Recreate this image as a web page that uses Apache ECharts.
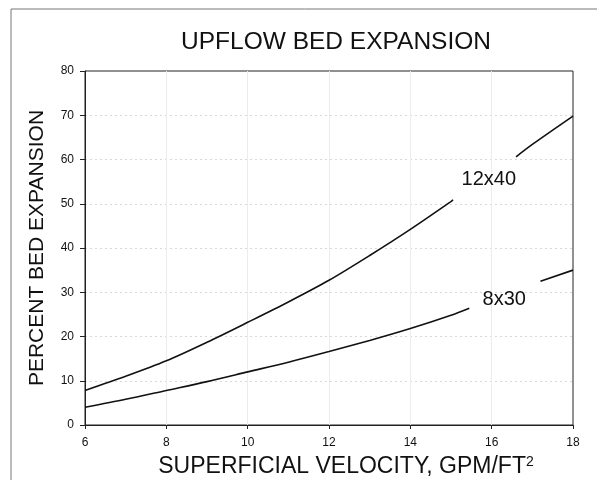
<!DOCTYPE html>
<html>
<head>
<meta charset="utf-8">
<script src="https://cdn.jsdelivr.net/npm/echarts@6/dist/echarts.min.js"></script>
<style>
  html, body { margin: 0; padding: 0; background: #fff; }
  #chart { width: 597px; height: 480px; }
</style>
</head>
<body>
<div id="chart"></div>
<script>
// values (x = GPM/ft², y = % expansion); null breaks the line where the label sits
const xTicks = [6, 8, 10, 12, 14, 16, 18]
const mesh12x40 = [[6, 7.8], [7, 11], [8, 14.5], [9, 18.7], [10, 23.2], [11, 27.8], [12, 32.7], [13, 38.3], [14, 44.2], [15, 50.5], [15.05, 50.9], null, [16.6, 60.6], [17, 63.4], [18, 69.8]]
const mesh8x30 = [[6, 4], [7, 5.8], [8, 7.8], [9, 9.8], [10, 12], [11, 14.2], [12, 16.6], [13, 19.1], [14, 21.8], [15, 24.8], [15.45, 26.4], null, [17.2, 32.5], [18, 35]]
const curveNames = ['12x40', '8x30']
const labelPos = [[15.93, 55.4], [16.31, 28.4]]

const chart = echarts.init(document.getElementById('chart'))
const font = 'Liberation Sans, Arial, sans-serif'

function curve(name, data, at) {
  return {
    name,
    type: 'line',
    data,
    smooth: 0.3,
    showSymbol: false,
    connectNulls: false,
    lineStyle: { color: '#111', width: 1.6 },
    markPoint: {
      symbol: 'circle',
      symbolSize: 0,
      data: [{ coord: at }],
      label: { show: true, position: 'inside', formatter: name, color: '#111', fontSize: 20, fontFamily: font }
    }
  }
}

chart.setOption({
  animation: false,
  title: {
    text: 'UPFLOW BED EXPANSION',
    left: 331,
    top: 25,
    textAlign: 'center',
    textStyle: { color: '#111', fontSize: 24.5, fontWeight: 'normal', fontFamily: font }
  },
  graphic: [{
    type: 'rect',
    shape: { x: 11, y: 9, width: 600, height: 480 },
    style: { fill: 'none', stroke: '#777', lineWidth: 1 },
    silent: true
  }],
  grid: { left: 85, right: 24, top: 71, bottom: 55, outerBoundsMode: 'none', show: true, borderColor: '#222', borderWidth: 1 },
  xAxis: {
    type: 'value',
    min: 6,
    max: 18,
    interval: 2,
    name: '{a|SUPERFICIAL VELOCITY, GPM/FT}{sup|2}',
    nameLocation: 'middle',
    nameGap: 30,
    nameTextStyle: {
      padding: [0, 0, 0, 34],
      rich: {
        a: { fontSize: 23, color: '#111', fontFamily: font },
        sup: { fontSize: 14, color: '#111', fontFamily: font, verticalAlign: 'top', padding: [0, 0, 10, 0] }
      }
    },
    axisLine: { lineStyle: { color: '#222' } },
    axisTick: { show: true, length: 4, lineStyle: { color: '#222' } },
    axisLabel: { margin: 12, color: '#111', fontSize: 12, fontFamily: font, formatter: v => xTicks.includes(v) ? String(v) : '' },
    splitLine: { show: true, showMinLine: false, showMaxLine: false, lineStyle: { color: '#ececec', width: 1 } }
  },
  yAxis: {
    type: 'value',
    min: 0,
    max: 80,
    interval: 10,
    name: 'PERCENT BED EXPANSION',
    nameLocation: 'middle',
    nameGap: 37,
    nameTextStyle: { fontSize: 21, color: '#111', fontFamily: font },
    axisLine: { show: true, lineStyle: { color: '#222' } },
    axisTick: { show: true, length: 5, lineStyle: { color: '#222' } },
    axisLabel: { margin: 11, color: '#111', fontSize: 12, fontFamily: font },
    splitLine: { show: true, showMinLine: false, showMaxLine: false, lineStyle: { color: '#d8d8d8', type: [2, 3], width: 1 } }
  },
  series: [
    curve(curveNames[0], mesh12x40, labelPos[0]),
    curve(curveNames[1], mesh8x30, labelPos[1])
  ]
})
</script>
</body>
</html>
